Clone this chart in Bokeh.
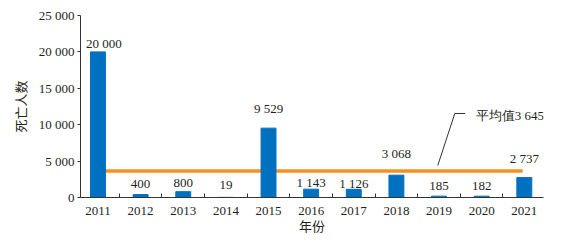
from bokeh.plotting import figure
from bokeh.models import FixedTicker, ColumnDataSource, Label
from bokeh.core.properties import value
from bokeh.embed import file_html
from bokeh.resources import INLINE

years = ["2011", "2012", "2013", "2014", "2015", "2016", "2017", "2018", "2019", "2020", "2021"]
deaths = [20000, 400, 800, 19, 9529, 1143, 1126, 3068, 185, 182, 2737]
value_labels = ["20 000", "400", "800", "19", "9 529", "1 143", "1 126", "3 068", "185", "182", "2 737"]
label_dy = [-8, -11, -8.5, -12, -19.5, -6.5, -6, -21.5, -10.5, -10.5, -19]
label_dx = [6, 0, 0, 0, 0, 0, 0, 0, 0, 0, 0]
average = 3645
avg_label = "平均值3 645"
y_ticks = [0, 5000, 10000, 15000, 20000, 25000]
y_tick_labels = ["0", "5 000", "10 000", "15 000", "20 000", "25 000"]

SERIF = "Liberation Serif"
CJK = "Noto Sans CJK SC"
TXT = "#231f20"

xs = list(range(len(years)))
p = figure(width=561, height=242, output_backend="svg", toolbar_location=None,
           x_range=(-0.41, 10.45), y_range=(0, 25000),
           min_border_left=80, min_border_right=18, min_border_top=15, min_border_bottom=45)
p.outline_line_color = None
p.grid.grid_line_color = None
p.background_fill_color = "white"

src = ColumnDataSource(dict(x=xs, y=deaths, lab=value_labels, dy=label_dy, dx=label_dx))

p.line(x=[0.0, 9.96], y=[average, average], line_color="#f7901e", line_width=3.5)
p.vbar(x="x", top="y", width=0.35, source=src, color="#0070c0")

p.text(x="x", y="y", text="lab", x_offset="dx", y_offset="dy", source=src, text_align="center",
       text_baseline="middle", text_font=value(SERIF), text_font_size="13px", text_color=TXT)

# leader line for average annotation
p.line(x=[7.97, 8.37, 8.61], y=[4400, 11540, 11540], line_color="#333333", line_width=1)
p.add_layout(Label(x=8.86, y=11300, text=avg_label, text_baseline="middle", text_align="left",
                   text_font=SERIF, text_font_size="13px", text_color=TXT))

xa = p.xaxis[0]
xa.ticker = FixedTicker(ticks=xs, minor_ticks=[i + 0.5 for i in xs])
xa.major_label_overrides = {i: y for i, y in enumerate(years)}
xa.major_tick_line_color = None
xa.minor_tick_in = 4
xa.minor_tick_out = 0
xa.minor_tick_line_color = "#333333"
xa.axis_line_color = "#333333"
xa.major_label_text_font = SERIF
xa.major_label_text_font_size = "13px"
xa.major_label_text_color = TXT
xa.major_label_standoff = 3
xa.axis_label = "年份"
xa.axis_label_text_font = CJK
xa.axis_label_text_font_style = "normal"
xa.axis_label_text_font_size = "13px"
xa.axis_label_text_color = TXT
xa.axis_label_standoff = -2

ya = p.yaxis[0]
ya.ticker = FixedTicker(ticks=y_ticks, minor_ticks=[])
ya.major_label_overrides = {t: l for t, l in zip(y_ticks, y_tick_labels)}
ya.major_tick_in = 0
ya.major_tick_out = 3
ya.major_tick_line_color = "#333333"
ya.axis_line_color = "#333333"
ya.major_label_text_font = SERIF
ya.major_label_text_font_size = "13px"
ya.major_label_text_color = TXT
ya.major_label_standoff = 3
ya.axis_label = "死亡人数"
ya.axis_label_text_font = CJK
ya.axis_label_text_font_style = "normal"
ya.axis_label_text_font_size = "13px"
ya.axis_label_text_color = TXT
ya.axis_label_standoff = 6

open("out.html", "w").write(file_html(p, INLINE))
